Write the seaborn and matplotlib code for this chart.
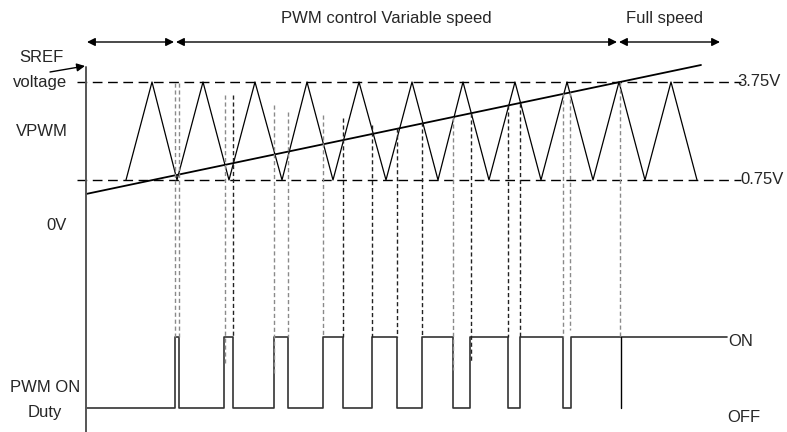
import numpy as np
import pandas as pd
import matplotlib
matplotlib.use("Agg")
import matplotlib.pyplot as plt
import seaborn as sns

# diagram coordinates: x = time (px-like units), y = vertical position (top = 0)
level_hi = 82     # 3.75V
level_lo = 180    # 0.75V
level_on = 337    # PWM ON
level_off = 408   # PWM OFF

# triangle carrier (VPWM) vertices
tri_x = [126, 152, 177, 203, 229, 255, 282, 307, 333, 359, 386, 412,
         438, 463, 489, 515, 541, 567, 593, 619, 645, 671, 697]
tri_y = [180, 82, 180, 82, 180, 82, 180, 82, 180, 82, 180, 82,
         180, 82, 180, 82, 180, 82, 180, 82, 180, 82, 180]

# SREF voltage ramp
sref_x = [86, 701]
sref_y = [194, 65]

# PWM output toggle edges (starts OFF)
pwm_start = 86
pwm_end = 727
pwm_edges = [175, 179, 224, 233, 274, 288, 323, 343, 372, 397,
             422, 453, 470, 508, 520, 563, 571]

# dashed guide lines from the crossings down to the PWM trace
guide_x = [175, 179, 225, 233, 274, 288, 323, 343, 372, 397,
           422, 453, 471, 508, 520, 563, 570, 620]
guide_top = [83, 83, 95, 95, 105, 112, 115, 118, 125, 128,
             122, 117, 113, 105, 103, 93, 92, 82]
guide_bottom = [337, 337, 363, 337, 375, 337, 337, 337, 337, 337,
                337, 370, 362, 337, 337, 337, 330, 337]
guide_gray = [1, 1, 1, 0, 1, 1, 1, 0, 0, 0,
              0, 1, 0, 0, 0, 1, 1, 1]

# section arrows
sections = [(87, 174), (176, 617), (619, 720)]
section_labels = [("PWM control Variable speed", 386), ("Full speed", 664)]

sns.set_theme(style="white")
plt.rcParams['font.family'] = ['Liberation Sans', 'DejaVu Sans']

fig = plt.figure(figsize=(7.87, 4.32), dpi=100)
ax = fig.add_axes([0, 0, 1, 1])
ax.set_xlim(0, 787)
ax.set_ylim(432, 0)
ax.axis("off")

# reference levels
for lv in (level_hi, level_lo):
    ax.plot([77, 741], [lv, lv], color="black", lw=1.0, ls=(0, (7, 4)))

# triangle wave
tri = pd.DataFrame({"x": tri_x, "y": tri_y})
sns.lineplot(data=tri, x="x", y="y", ax=ax, color="black", lw=0.9,
             estimator=None, sort=False)

# SREF ramp
sns.lineplot(x=sref_x, y=sref_y, ax=ax, color="black", lw=1.3,
             estimator=None, sort=False)

# PWM output trace
px, py = [pwm_start], [level_off]
state = level_off
for e in pwm_edges:
    px += [e, e]
    nxt = level_on if state == level_off else level_off
    py += [state, nxt]
    state = nxt
px.append(pwm_end)
py.append(state)
pwm = pd.DataFrame({"x": px, "y": py})
sns.lineplot(data=pwm, x="x", y="y", ax=ax, color="#333333", lw=1.2,
             estimator=None, sort=False)
ax.plot([621, 621], [level_on, level_off], color="black", lw=1.0)

# guide lines
for gx, gt, gb, gg in zip(guide_x, guide_top, guide_bottom, guide_gray):
    ax.plot([gx, gx], [gt, gb], color="#8a8a8a" if gg else "#222222",
            lw=1.0, ls=(0, (3, 2)))

# vertical axis
ax.plot([86, 86], [67, 432], color="#555555", lw=1.4)
ax.annotate("", xy=(85, 66), xytext=(50, 72),
            arrowprops=dict(arrowstyle="-|>", color="black", lw=1.0,
                            mutation_scale=12, shrinkA=0, shrinkB=0))

# section arrows
for a, b in sections:
    ax.annotate("", xy=(b, 42), xytext=(a, 42),
                arrowprops=dict(arrowstyle="<|-|>", color="black", lw=1.0,
                                mutation_scale=12, shrinkA=0, shrinkB=0))
fs = 12
for txt, cx in section_labels:
    ax.text(cx, 18, txt, ha="center", va="center", fontsize=fs)

# labels
ax.text(41, 57, "SREF", ha="center", va="center", fontsize=fs)
ax.text(40, 83, "voltage", ha="center", va="center", fontsize=fs)
ax.text(42, 131, "VPWM", ha="center", va="center", fontsize=fs)
ax.text(57, 226, "0V", ha="center", va="center", fontsize=fs)
ax.text(45, 388, "PWM ON", ha="center", va="center", fontsize=fs)
ax.text(45, 413, "Duty", ha="center", va="center", fontsize=fs)
ax.text(737, 82, "3.75V", ha="left", va="center", fontsize=fs)
ax.text(740, 180, "0.75V", ha="left", va="center", fontsize=fs)
ax.text(728, 342, "ON", ha="left", va="center", fontsize=fs)
ax.text(727, 417, "OFF", ha="left", va="center", fontsize=fs)

fig.savefig("out.png", dpi=100)
